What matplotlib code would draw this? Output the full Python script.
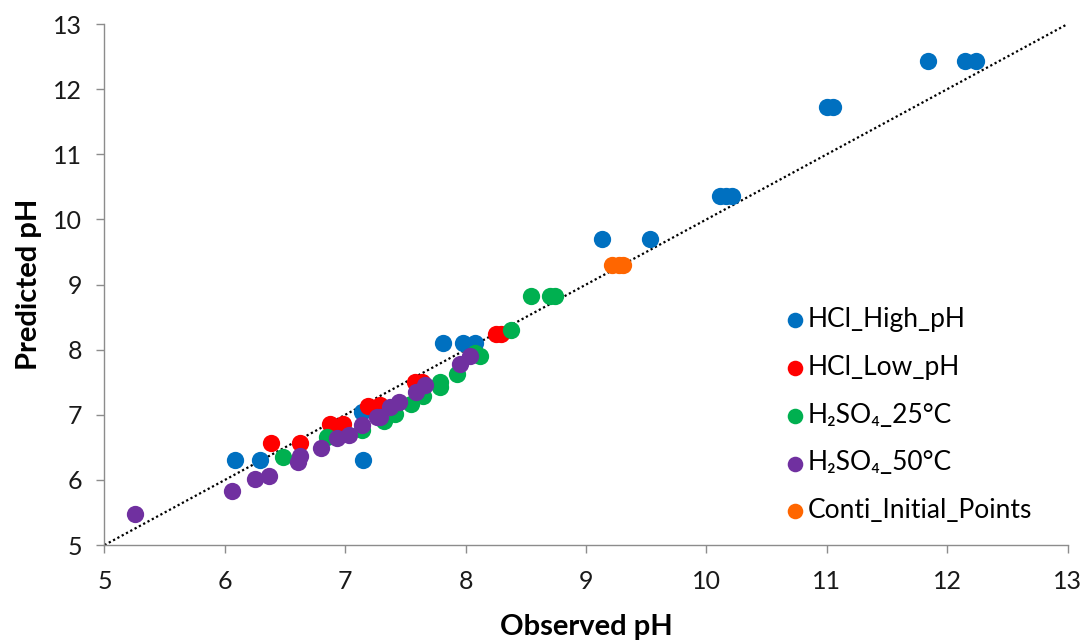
import matplotlib
matplotlib.use("Agg")
import matplotlib.pyplot as plt

plt.rcParams['font.family'] = ['Lato', 'DejaVu Sans']

# Observed vs predicted pH for each data set
hcl_high_obs = [6.08, 6.29, 7.15, 7.14, 7.81, 7.98, 8.08, 9.13, 9.53,
                10.11, 10.16, 10.21, 11.00, 11.05, 11.84, 12.15, 12.24]
hcl_high_pred = [6.31, 6.31, 6.31, 7.05, 8.10, 8.10, 8.10, 9.70, 9.70,
                 10.36, 10.36, 10.36, 11.72, 11.72, 12.43, 12.43, 12.43]

hcl_low_obs = [6.38, 6.62, 6.87, 6.98, 7.19, 7.29, 7.58, 7.64, 8.25, 8.29]
hcl_low_pred = [6.56, 6.56, 6.86, 6.86, 7.13, 7.15, 7.51, 7.51, 8.24, 8.24]

h2so4_25_obs = [6.48, 6.85, 7.14, 7.32, 7.41, 7.55, 7.65, 7.79, 7.79,
                7.93, 8.08, 8.12, 8.38, 8.54, 8.70, 8.74]
h2so4_25_pred = [6.35, 6.66, 6.77, 6.90, 7.02, 7.16, 7.29, 7.42, 7.50,
                 7.63, 7.95, 7.90, 8.31, 8.82, 8.82, 8.82]

h2so4_50_obs = [5.25, 6.06, 6.25, 6.37, 6.61, 6.62, 6.80, 6.93, 7.03,
                7.14, 7.26, 7.29, 7.37, 7.45, 7.59, 7.66, 7.95, 8.04]
h2so4_50_pred = [5.48, 5.83, 6.02, 6.06, 6.28, 6.36, 6.49, 6.64, 6.69,
                 6.84, 6.97, 6.97, 7.12, 7.20, 7.35, 7.46, 7.78, 7.90]

conti_obs = [9.22, 9.27, 9.31]
conti_pred = [9.30, 9.30, 9.30]

series = [
    ("HCl_High_pH", hcl_high_obs, hcl_high_pred, "#0070C0"),
    ("HCl_Low_pH", hcl_low_obs, hcl_low_pred, "#FF0000"),
    ("H\u2082SO\u2084_25°C", h2so4_25_obs, h2so4_25_pred, "#00B050"),
    ("H\u2082SO\u2084_50°C", h2so4_50_obs, h2so4_50_pred, "#7030A0"),
    ("Conti_Initial_Points", conti_obs, conti_pred, "#FF6600"),
]

axis_ticks = [5, 6, 7, 8, 9, 10, 11, 12, 13]

fig = plt.figure(figsize=(10.84, 6.42), dpi=100)
ax = fig.add_axes([0.0964, 0.151, 0.8884, 0.8115])

# 1:1 reference line
ax.plot([axis_ticks[0], axis_ticks[-1]], [axis_ticks[0], axis_ticks[-1]],
        linestyle=(0, (1, 1.2)), color="black", linewidth=1.6, zorder=1)

for i, (name, xs, ys, col) in enumerate(series):
    ax.scatter(xs, ys, s=155, color=col, linewidths=0, label=name, zorder=2 + i)

ax.set_xlim(axis_ticks[0], axis_ticks[-1])
ax.set_ylim(axis_ticks[0], axis_ticks[-1])
ax.set_xticks(axis_ticks)
ax.set_yticks(axis_ticks)

for side in ("top", "right"):
    ax.spines[side].set_visible(False)
for side in ("left", "bottom"):
    ax.spines[side].set_color("#8C8C8C")
    ax.spines[side].set_linewidth(1.0)

ax.tick_params(axis="both", direction="out", length=6, width=1.0,
               color="#8C8C8C", labelsize=18, labelcolor="#1a1a1a")
ax.tick_params(axis="x", pad=12)
ax.tick_params(axis="y", pad=10)

ax.set_xlabel("Observed pH", fontsize=21, fontweight="bold", labelpad=15)
ax.set_ylabel("Predicted pH", fontsize=21, fontweight="bold", labelpad=8)

leg = ax.legend(loc="upper left", bbox_to_anchor=(0.6955, 0.478), frameon=False,
                fontsize=19, labelspacing=0.87, handletextpad=0.05,
                handlelength=0.8, borderaxespad=0, scatterpoints=1,
                markerscale=0.9)

fig.savefig("out.png", dpi=100)
